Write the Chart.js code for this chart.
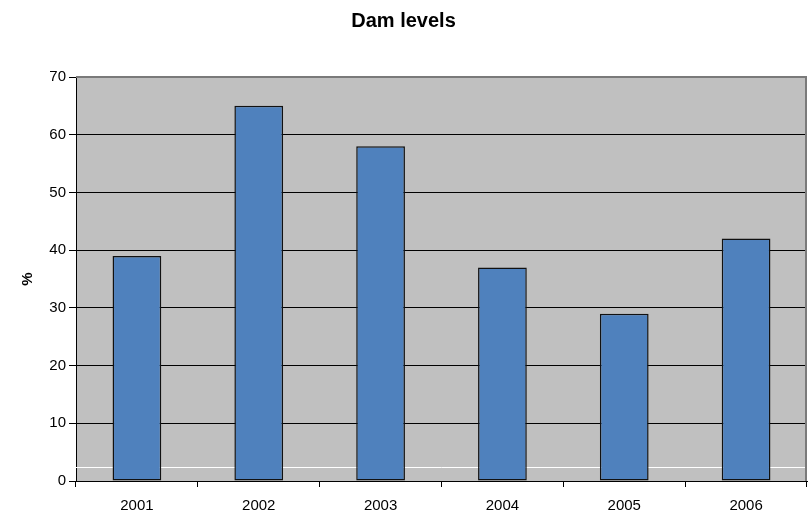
<!DOCTYPE html>
<html>
<head>
<meta charset="utf-8">
<script src="https://cdn.jsdelivr.net/npm/chart.js@4/dist/chart.umd.min.js"></script>
<style>
  html, body { margin: 0; padding: 0; background: #ffffff; }
  #wrap { width: 812px; height: 512px; }
</style>
</head>
<body>
<div id="wrap"><canvas id="c" width="812" height="512"></canvas></div>
<script>
// Yearly dam levels in percent
const years = ['2001', '2002', '2003', '2004', '2005', '2006'];
const levels = [39, 65, 58, 37, 29, 42];
const yTicks = [0, 10, 20, 30, 40, 50, 60, 70];
const referenceLevel = 2.5;

const FONT = "'Liberation Sans', Arial, sans-serif";

// Grey plot background, outer frame and the white reference line
const plotBackground = {
  id: 'plotBackground',
  beforeDraw(chart) {
    const { ctx, chartArea: a } = chart;
    ctx.save();
    ctx.fillStyle = '#c0c0c0';
    ctx.fillRect(a.left, a.top, a.right - a.left, a.bottom - a.top);
    ctx.restore();
  },
  beforeDatasetsDraw(chart) {
    const { ctx, chartArea: a, scales } = chart;
    const y = Math.round(scales.y.getPixelForValue(referenceLevel)) + 0.5;
    ctx.save();
    ctx.strokeStyle = '#ffffff';
    ctx.lineWidth = 1;
    ctx.beginPath();
    ctx.moveTo(a.left, y);
    ctx.lineTo(a.right, y);
    ctx.stroke();
    ctx.strokeStyle = '#7a7a7a';
    ctx.lineWidth = 2;
    ctx.beginPath();
    ctx.moveTo(a.left, Math.round(a.top));
    ctx.lineTo(Math.round(a.right) - 1, Math.round(a.top));
    ctx.lineTo(Math.round(a.right) - 1, a.bottom);
    ctx.stroke();
    ctx.restore();
  }
};

new Chart(document.getElementById('c'), {
  type: 'bar',
  data: {
    labels: years,
    datasets: [{
      data: levels,
      backgroundColor: '#4f81bd',
      borderColor: '#111111',
      borderWidth: 1.5,
      borderSkipped: false,
      barPercentage: 0.4,
      categoryPercentage: 1.0
    }]
  },
  options: {
    responsive: false,
    animation: false,
    layout: { padding: { left: 0, right: 5, top: 0, bottom: 0 } },
    plugins: {
      legend: { display: false },
      tooltip: { enabled: false },
      title: {
        display: true,
        text: 'Dam levels',
        color: '#000000',
        font: { family: FONT, size: 20, weight: 'bold' },
        padding: { top: 9, bottom: 44 }
      }
    },
    scales: {
      x: {
        grid: {
          display: true,
          drawOnChartArea: false,
          drawTicks: true,
          tickLength: 6,
          tickColor: '#000000',
          offset: true
        },
        border: { display: true, color: '#000000', width: 1 },
        ticks: {
          color: '#000000',
          font: { family: FONT, size: 15 },
          padding: 10,
          maxRotation: 0
        },
        afterFit(scale) { scale.height = 31; }
      },
      y: {
        min: 0,
        max: 70,
        afterBuildTicks(scale) { scale.ticks = yTicks.map(v => ({ value: v })); },
        grid: {
          color: ctx => (ctx.tick && ctx.tick.value === 70 ? 'rgba(0,0,0,0)' : '#000000'),
          tickColor: '#000000',
          tickLength: 7,
          lineWidth: 1
        },
        border: { display: true, color: '#000000', width: 1 },
        ticks: {
          color: '#000000',
          font: { family: FONT, size: 15 },
          padding: 3
        },
        title: {
          display: true,
          text: '%',
          color: '#000000',
          font: { family: FONT, size: 15, weight: 'bold' },
          padding: { top: 19, bottom: 0 }
        },
        afterFit(scale) { scale.width = 76; }
      }
    }
  },
  plugins: [plotBackground]
});
</script>
</body>
</html>
